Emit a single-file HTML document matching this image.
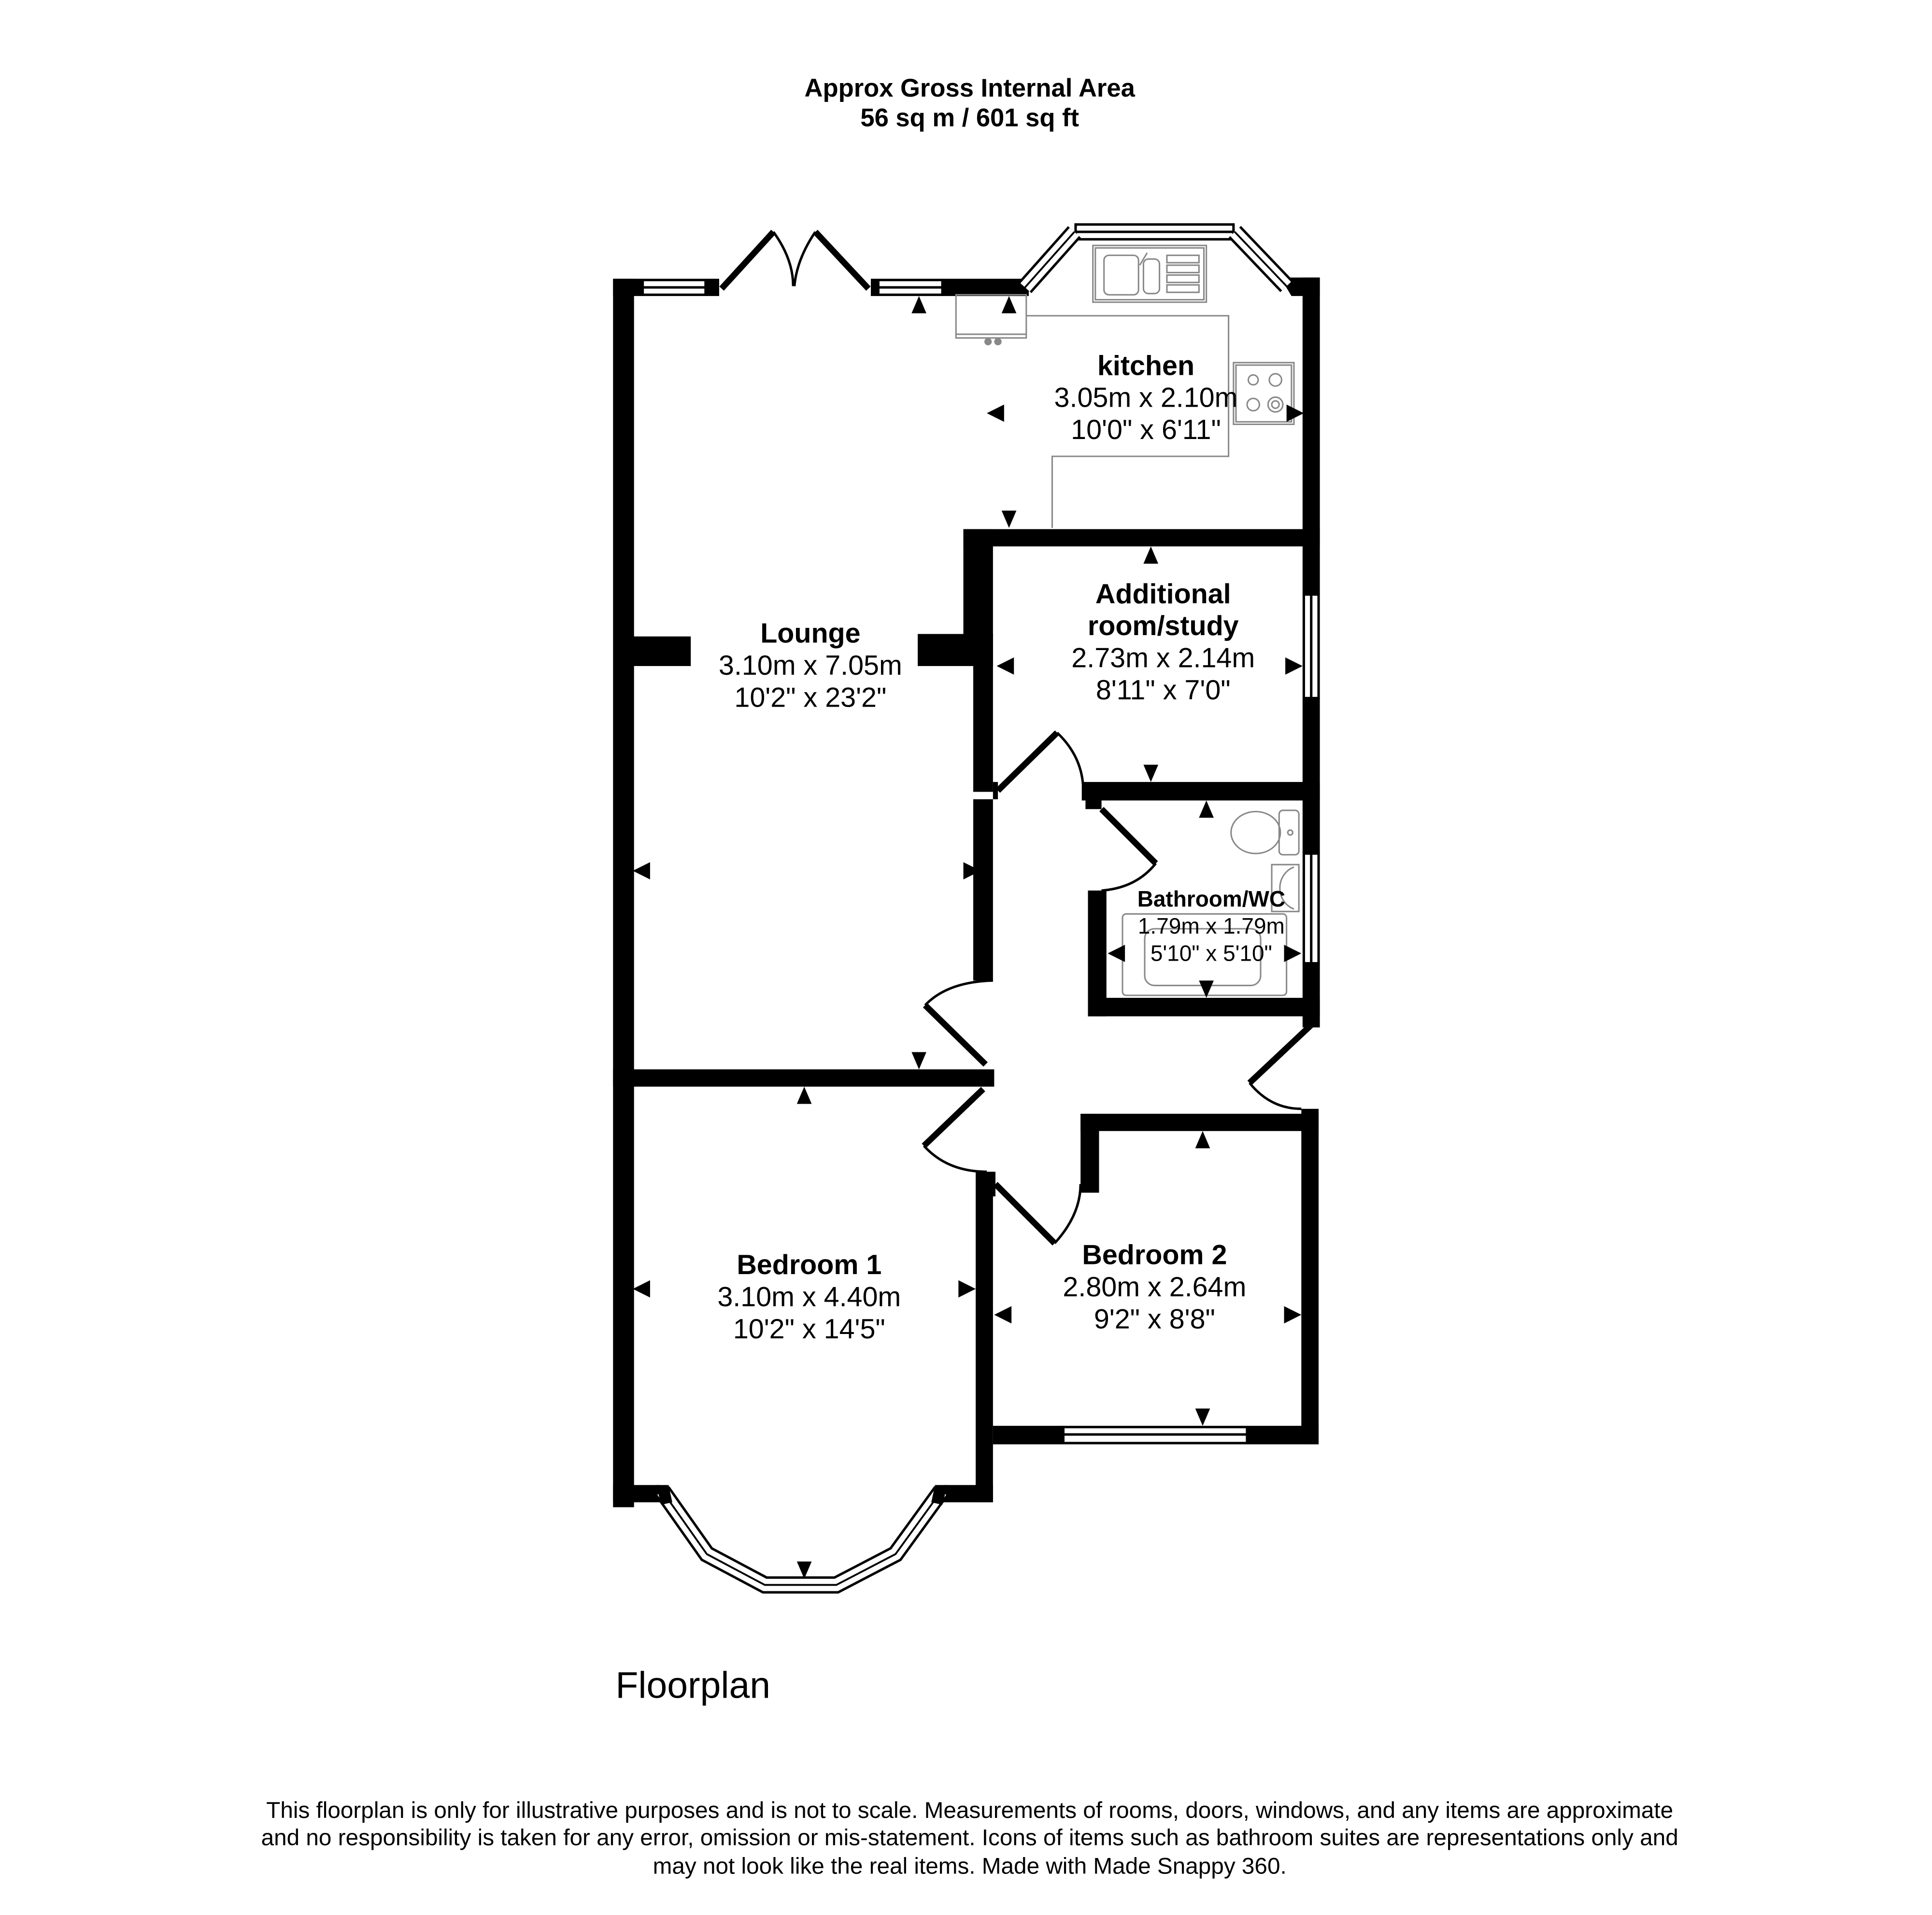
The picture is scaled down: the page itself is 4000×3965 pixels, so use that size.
<!DOCTYPE html>
<html><head><meta charset="utf-8"><style>
html,body{margin:0;padding:0;background:#fff;}
svg{display:block;}
text{font-family:"Liberation Sans",Arial,sans-serif;fill:#000;}
</style></head><body>
<svg width="4000" height="3965" viewBox="0 0 1560 1546.4" xmlns="http://www.w3.org/2000/svg">
<rect width="1560" height="1547" fill="#fff"/>
<text x="783" y="78" font-size="20.5" font-weight="bold" text-anchor="middle">Approx Gross Internal Area</text>
<text x="783" y="102" font-size="20.5" font-weight="bold" text-anchor="middle">56 sq m / 601 sq ft</text>
<g transform="scale(0.996)">
<g fill="#000">
<rect x="497" y="226" width="17" height="996"/>
<rect x="497" y="226" width="24" height="14"/>
<rect x="572" y="226" width="11" height="14"/>
<rect x="706" y="226" width="6" height="14"/>
<rect x="764" y="226" width="70" height="14"/>
<polygon points="834,226 840,226 832,240 826,240"/>
<polygon points="1038,225 1070,225 1070,240 1047,240"/>
<rect x="1056" y="225" width="14" height="257"/>
<rect x="1056" y="566" width="14" height="126"/>
<rect x="1056" y="781" width="14" height="52"/>
<rect x="1055" y="899" width="14" height="272"/>
<rect x="781" y="429" width="289" height="14"/>
<rect x="781" y="429" width="24" height="87"/>
<rect x="744" y="514" width="61" height="26"/>
<rect x="513" y="516" width="47" height="24"/>
<rect x="789" y="514" width="16" height="128"/>
<rect x="805" y="634" width="4" height="14"/>
<rect x="789" y="648" width="16" height="147"/>
<rect x="877" y="634" width="193" height="15"/>
<rect x="880" y="648" width="13" height="8"/>
<rect x="882" y="722" width="15" height="102"/>
<rect x="882" y="809" width="188" height="15"/>
<rect x="497" y="867" width="309" height="14"/>
<rect x="791" y="950" width="14" height="268"/>
<rect x="797" y="950" width="10" height="20"/>
<rect x="497" y="1204" width="38" height="14"/>
<rect x="765" y="1204" width="40" height="14"/>
<rect x="876" y="903" width="193" height="14"/>
<rect x="876" y="903" width="15" height="64"/>
<rect x="805" y="1156" width="57" height="15"/>
<rect x="1011" y="1156" width="58" height="15"/>
</g>
<g stroke="#000" fill="#fff" stroke-width="2">
<rect x="521" y="227" width="51" height="12"/><line x1="521" y1="233" x2="572" y2="233"/>
<rect x="712" y="227" width="52" height="12"/><line x1="712" y1="233" x2="764" y2="233"/>
<rect x="872" y="182" width="128" height="12"/><line x1="872" y1="188" x2="1000" y2="188"/>
<rect x="1057" y="482" width="12" height="84"/><line x1="1063" y1="482" x2="1063" y2="566"/>
<rect x="1057" y="692" width="12" height="89"/><line x1="1063" y1="692" x2="1063" y2="781"/>
<rect x="862" y="1157" width="149" height="13"/><line x1="862" y1="1163" x2="1011" y2="1163"/>
</g>
<g fill="none" stroke-linejoin="miter">
<polyline points="831,233 871,188" stroke="#000" stroke-width="14"/>
<polyline points="831,233 871,188" stroke="#fff" stroke-width="10"/>
<polyline points="831,233 871,188" stroke="#000" stroke-width="1.5"/>
<polyline points="1001,188 1043,232" stroke="#000" stroke-width="14"/>
<polyline points="1001,188 1043,232" stroke="#fff" stroke-width="10"/>
<polyline points="1001,188 1043,232" stroke="#000" stroke-width="1.5"/>
<polyline points="537,1209 573,1260 620,1285 678,1285 726,1260 763,1209" stroke="#000" stroke-width="14"/>
<polyline points="537,1209 573,1260 620,1285 678,1285 726,1260 763,1209" stroke="#fff" stroke-width="10"/>
<polyline points="537,1209 573,1260 620,1285 678,1285 726,1260 763,1209" stroke="#000" stroke-width="1.5"/>
</g>
<g fill="#000">
<polygon points="532,1204 542,1204 545,1218 536,1220"/>
<polygon points="768,1204 758,1204 755,1218 764,1220"/>
</g>
<g fill="none" stroke="#000">
<line x1="585" y1="234" x2="627" y2="188" stroke-width="5"/>
<line x1="704" y1="234" x2="661" y2="188" stroke-width="5"/>
<path d="M627,188 Q643,210 643,232" stroke-width="2"/>
<path d="M661,188 Q646,210 644,232" stroke-width="2"/>
<line x1="809" y1="641" x2="857" y2="594" stroke-width="5"/>
<path d="M857,594 Q876,612 878,636" stroke-width="2"/>
<line x1="893" y1="656" x2="937" y2="700" stroke-width="5"/>
<path d="M937,700 Q921,720 893,722" stroke-width="2"/>
<line x1="799" y1="863" x2="750" y2="815" stroke-width="5"/>
<path d="M750,815 Q768,796 805,795" stroke-width="2"/>
<line x1="797" y1="883" x2="749" y2="929" stroke-width="5"/>
<path d="M749,929 Q768,950 800,950" stroke-width="2"/>
<line x1="807" y1="960" x2="855" y2="1008" stroke-width="5"/>
<path d="M855,1008 Q876,985 876,960" stroke-width="2"/>
<line x1="1063" y1="831" x2="1013" y2="878" stroke-width="5"/>
<path d="M1013,878 Q1030,899 1055,899" stroke-width="2"/>
</g>
<g fill="none" stroke="#888" stroke-width="1.2">
<polyline points="832,256 996,256 996,370 853,370 853,428"/>
<rect x="775" y="239" width="57" height="35"/>
<line x1="775" y1="271" x2="832" y2="271"/>
<rect x="886" y="199" width="92" height="46"/>
<rect x="888" y="201" width="88" height="42"/>
<rect x="895" y="207" width="28" height="32" rx="4"/>
<rect x="927" y="210" width="13" height="28" rx="4"/>
<rect x="946" y="207" width="26" height="6"/><rect x="946" y="215" width="26" height="6"/><rect x="946" y="223" width="26" height="6"/><rect x="946" y="231" width="26" height="6"/>
<line x1="924" y1="215" x2="930" y2="205"/>
<rect x="1000" y="294" width="49" height="50"/>
<rect x="1002" y="296" width="45" height="46"/>
<circle cx="1016" cy="308" r="4"/><circle cx="1034" cy="308" r="5"/>
<circle cx="1016" cy="328" r="5"/><circle cx="1034" cy="328" r="6"/><circle cx="1034" cy="328" r="3"/>
<rect x="1037" y="657" width="16" height="36" rx="3"/>
<ellipse cx="1018" cy="675" rx="20" ry="17"/>
<circle cx="1046" cy="675" r="2"/>
<rect x="1031" y="701" width="22" height="38"/>
<path d="M1049,703 A17,18 0 0 0 1049,737"/>
<rect x="910" y="741" width="133" height="66" rx="3"/>
<rect x="928" y="753" width="94" height="46" rx="8"/>
</g>
<g fill="#888"><circle cx="801" cy="277" r="3"/><circle cx="809" cy="277" r="3"/></g>
<g fill="#000">
<polygon points="745,240 739,254 751,254"/>
<polygon points="818,240 812,254 824,254"/>
<polygon points="800,335 814,328 814,342"/>
<polygon points="1057,335 1043,328 1043,342"/>
<polygon points="818,428 812,414 824,414"/>
<polygon points="933,443 927,457 939,457"/>
<polygon points="808,540 822,533 822,547"/>
<polygon points="1056,540 1042,533 1042,547"/>
<polygon points="933,634 927,620 939,620"/>
<polygon points="978,649 972,663 984,663"/>
<polygon points="898,773 912,766 912,780"/>
<polygon points="1055,773 1041,766 1041,780"/>
<polygon points="978,809 972,795 984,795"/>
<polygon points="513,706 527,699 527,713"/>
<polygon points="795,706 781,699 781,713"/>
<polygon points="745,867 739,853 751,853"/>
<polygon points="652,881 646,895 658,895"/>
<polygon points="513,1045 527,1038 527,1052"/>
<polygon points="791,1045 777,1038 777,1052"/>
<polygon points="652,1280 646,1266 658,1266"/>
<polygon points="975,917 969,931 981,931"/>
<polygon points="806,1066 820,1059 820,1073"/>
<polygon points="1055,1066 1041,1059 1041,1073"/>
<polygon points="975,1156 969,1142 981,1142"/>
</g>
<g text-anchor="middle" font-size="22.5">
<text x="929" y="304" font-weight="bold">kitchen</text>
<text x="929" y="330">3.05m x 2.10m</text>
<text x="929" y="356">10'0" x 6'11"</text>
<text x="657" y="521" font-weight="bold">Lounge</text>
<text x="657" y="547">3.10m x 7.05m</text>
<text x="657" y="573">10'2" x 23'2"</text>
<text x="943" y="489" font-weight="bold">Additional</text>
<text x="943" y="515" font-weight="bold">room/study</text>
<text x="943" y="541">2.73m x 2.14m</text>
<text x="943" y="567">8'11" x 7'0"</text>
<text x="656" y="1033" font-weight="bold">Bedroom 1</text>
<text x="656" y="1059">3.10m x 4.40m</text>
<text x="656" y="1085">10'2" x 14'5"</text>
<text x="936" y="1025" font-weight="bold">Bedroom 2</text>
<text x="936" y="1051">2.80m x 2.64m</text>
<text x="936" y="1077">9'2" x 8'8"</text>
</g>
<g text-anchor="middle" font-size="18">
<text x="982" y="735" font-weight="bold">Bathroom/WC</text>
<text x="982" y="757">1.79m x 1.79m</text>
<text x="982" y="779">5'10" x 5'10"</text>
</g>
</g>
<text x="497" y="1371" font-size="30">Floorplan</text>
<g text-anchor="middle" font-size="18.6">
<text x="783" y="1468">This floorplan is only for illustrative purposes and is not to scale. Measurements of rooms, doors, windows, and any items are approximate</text>
<text x="783" y="1490">and no responsibility is taken for any error, omission or mis-statement. Icons of items such as bathroom suites are representations only and</text>
<text x="783" y="1513">may not look like the real items. Made with Made Snappy 360.</text>
</g>
</svg>
</body></html>
